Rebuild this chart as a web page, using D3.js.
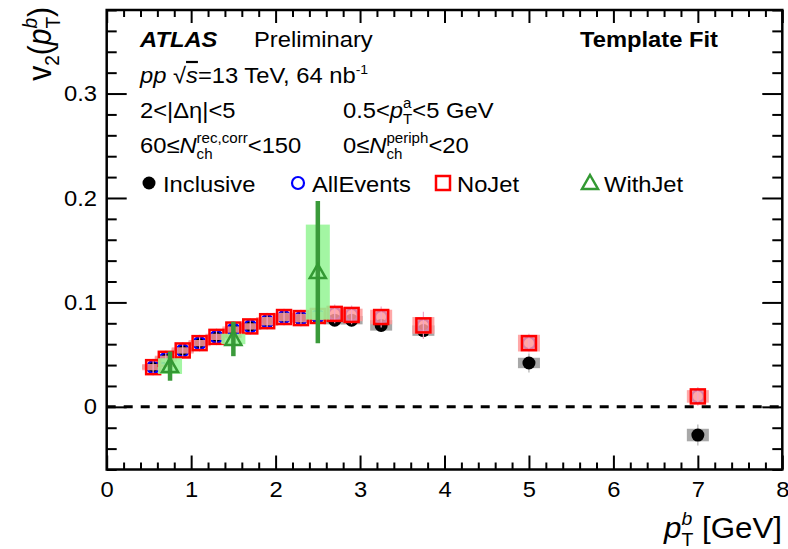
<!DOCTYPE html>
<html>
<head>
<meta charset="utf-8">
<script src="https://cdn.jsdelivr.net/npm/d3@7"></script>
<style>
  body { margin: 0; background: #fff; }
  text { font-family: "Liberation Sans", Arial, sans-serif; fill: #000; }
</style>
</head>
<body>
<svg id="chart"></svg>
<script>
// bin centres in pT^b (GeV)
const ptBins = [0.55, 0.7, 0.9, 1.1, 1.3, 1.5, 1.7, 1.9, 2.1, 2.3, 2.5, 2.7, 2.9, 3.25, 3.75, 5, 7];

const inclusiveV2   = [0.038, 0.046, 0.054, 0.061, 0.067, 0.073, 0.077, 0.081, 0.086, 0.084, 0.086, 0.083, 0.083, 0.078, 0.073, 0.042, -0.027];
const inclusiveStat = [0.003, 0.003, 0.003, 0.003, 0.003, 0.003, 0.004, 0.004, 0.004, 0.004, 0.005, 0.005, 0.006, 0.006, 0.007, 0.009, 0.010];
const inclusiveSyst = [0.002, 0.002, 0.002, 0.002, 0.002, 0.002, 0.003, 0.003, 0.003, 0.003, 0.003, 0.004, 0.004, 0.005, 0.005, 0.005, 0.006];

const allEventsV2   = [0.038, 0.046, 0.054, 0.061, 0.067, 0.074, 0.077, 0.082, 0.086, 0.085, 0.087, 0.089, 0.088, 0.086, 0.078, 0.061, 0.010];

const noJetV2   = [0.038, 0.046, 0.054, 0.061, 0.067, 0.074, 0.077, 0.082, 0.086, 0.085, 0.087, 0.089, 0.088, 0.086, 0.078, 0.061, 0.010];
const noJetStat = [0.008, 0.008, 0.008, 0.008, 0.008, 0.008, 0.008, 0.008, 0.008, 0.008, 0.009, 0.009, 0.009, 0.010, 0.013, 0.009, 0.009];
const noJetSyst = [0.003, 0.003, 0.003, 0.003, 0.003, 0.003, 0.003, 0.004, 0.004, 0.004, 0.004, 0.006, 0.006, 0.007, 0.008, 0.008, 0.006];

const withJetBins = [0.75, 1.5, 2.5];
const withJetV2   = [0.039, 0.065, 0.129];
const withJetStat = [0.014, 0.0165, 0.068];
const withJetSyst = [0.0075, 0.005, 0.0455];

const xTicks = [0, 1, 2, 3, 4, 5, 6, 7, 8];
const yTicks = [0, 0.1, 0.2, 0.3];

const W = 788, H = 549;
const frame = { left: 106.7, right: 782.3, top: 10, bottom: 469.5 };
const SX = 1.08; // picture is a little wider than tall

const svg = d3.select('#chart').attr('width', W).attr('height', H);

const xScale = d3.scaleLinear().domain([0, 8]).range([frame.left, frame.right]);
const yScale = d3.scaleLinear().domain([-0.06, 0.38]).range([frame.bottom, frame.top]);

const xMinor = d3.range(0, 8.001, 0.2).filter(v => Math.abs(v - Math.round(v)) > 1e-6);
const yMinor = d3.range(-0.06, 0.3801, 0.02).filter(v => Math.abs(v * 10 - Math.round(v * 10)) > 1e-6);

// ---- axes (ticks pointing inwards on all four sides)
const fmt = d => d === 0 ? '0' : d3.format('.1f')(d);

const addAxis = (axis, transform) => {
    const g = svg.append('g').attr('transform', transform).call(axis);
    g.select('.domain').remove();
    g.selectAll('.tick line').attr('stroke', '#000').attr('stroke-width', 2);
    return g;
};

const yLeft = addAxis(d3.axisLeft(yScale).tickValues(yTicks).tickSize(-20).tickPadding(9).tickFormat(fmt),
    `translate(${frame.left},0)`);
yLeft.selectAll('.tick text').attr('font-size', 22).attr('fill', '#000')
    .attr('transform', `scale(${SX},1)`);
addAxis(d3.axisLeft(yScale).tickValues(yMinor).tickSize(-10).tickFormat(''), `translate(${frame.left},0)`);
addAxis(d3.axisRight(yScale).tickValues(yTicks).tickSize(-20).tickFormat(''), `translate(${frame.right},0)`);
addAxis(d3.axisRight(yScale).tickValues(yMinor).tickSize(-10).tickFormat(''), `translate(${frame.right},0)`);

const xBottom = addAxis(d3.axisBottom(xScale).tickValues(xTicks).tickSize(-14).tickPadding(12).tickFormat(d3.format('d')),
    `translate(0,${frame.bottom})`);
xBottom.selectAll('.tick text').attr('font-size', 22).attr('fill', '#000')
    .attr('transform', `scale(${SX},1)`);
addAxis(d3.axisBottom(xScale).tickValues(xMinor).tickSize(-7).tickFormat(''), `translate(0,${frame.bottom})`);
addAxis(d3.axisTop(xScale).tickValues(xTicks).tickSize(-13).tickFormat(''), `translate(0,${frame.top})`);
addAxis(d3.axisTop(xScale).tickValues(xMinor).tickSize(-7).tickFormat(''), `translate(0,${frame.top})`);

svg.append('rect')
    .attr('x', frame.left).attr('y', frame.top)
    .attr('width', frame.right - frame.left).attr('height', frame.bottom - frame.top)
    .attr('fill', 'none').attr('stroke', '#000').attr('stroke-width', 2.5);

// zero line
svg.append('line')
    .attr('x1', xScale(0)).attr('x2', xScale(8))
    .attr('y1', yScale(0)).attr('y2', yScale(0))
    .attr('stroke', '#000').attr('stroke-width', 3).attr('stroke-dasharray', '9,8');

// ---- data
const plot = svg.append('g');

const drawSeries = (xs, vals, stat, syst, opt) => {
    const pts = xs.map((x, i) => ({ x: x, v: vals[i], st: stat ? stat[i] : 0, sy: syst ? syst[i] : 0 }));
    const g = plot.append('g');
    if (syst) {
        g.selectAll('rect.sys').data(pts).join('rect')
            .attr('x', d => xScale(d.x) - opt.boxHalf)
            .attr('width', opt.boxHalf * 2)
            .attr('y', d => yScale(d.v + d.sy))
            .attr('height', d => yScale(d.v - d.sy) - yScale(d.v + d.sy))
            .attr('fill', opt.boxFill).attr('opacity', opt.boxOpacity || 1);
    }
    if (stat) {
        g.selectAll('line.stat').data(pts).join('line')
            .attr('x1', d => xScale(d.x)).attr('x2', d => xScale(d.x))
            .attr('y1', d => yScale(d.v + d.st)).attr('y2', d => yScale(d.v - d.st))
            .attr('stroke', opt.barColor).attr('stroke-width', opt.barWidth);
    }
    const m = g.selectAll('g.m').data(pts).join('g')
        .attr('transform', d => `translate(${xScale(d.x)},${yScale(d.v)})`);
    opt.marker(m);
};

const dot = sel => sel.append('circle').attr('r', 6.5).attr('fill', '#000');
const ring = sel => sel.append('circle').attr('r', 6).attr('fill', 'none').attr('stroke', '#0000ff').attr('stroke-width', 2.2);
const square = sel => sel.append('rect').attr('x', -7).attr('y', -7).attr('width', 14).attr('height', 14)
    .attr('fill', 'none').attr('stroke', '#ff0000').attr('stroke-width', 2.5);
const triangle = sel => sel.append('path').attr('d', 'M0,-8L8,6L-8,6Z')
    .attr('fill', 'none').attr('stroke', '#339933').attr('stroke-width', 2.5).attr('stroke-linejoin', 'miter');

drawSeries(ptBins, inclusiveV2, inclusiveStat, inclusiveSyst,
    { boxHalf: 11, boxFill: '#a8a8a8', barColor: '#b0b0b0', barWidth: 1.2, marker: dot });
drawSeries(ptBins, allEventsV2, null, null, { marker: ring });
drawSeries(ptBins, noJetV2, noJetStat, noJetSyst,
    { boxHalf: 11, boxFill: '#ff9999', boxOpacity: 0.85, barColor: '#f2a6c8', barWidth: 1.2, marker: square });
drawSeries(withJetBins, withJetV2, withJetStat, withJetSyst,
    { boxHalf: 12, boxFill: '#99f599', boxOpacity: 0.9, barColor: '#3a9a3a', barWidth: 4.5, marker: triangle });

// ---- text helpers
const label = (x, y, size, anchor) => svg.append('g')
    .attr('transform', `translate(${x},${y}) scale(${SX},1)`)
    .append('text').attr('font-size', size).attr('text-anchor', anchor || 'start');

// base text with stacked sub/sup after it
const stacked = (t, sub, sup, size, rest) => {
    const small = Math.round(size * 0.62);
    const s1 = t.append('tspan').attr('font-size', small).attr('dy', size * 0.28).text(sub);
    const subLen = s1.node().getComputedTextLength();
    const s2 = t.append('tspan').attr('font-size', small).attr('dx', -subLen).attr('dy', -size * 0.72).text(sup);
    const supLen = s2.node().getComputedTextLength();
    t.append('tspan').attr('dy', size * 0.44).attr('dx', Math.max(0, subLen - supLen)).text(rest);
};

let t = label(140, 47, 22);
t.append('tspan').attr('font-weight', 'bold').attr('font-style', 'italic').text('ATLAS');
label(254, 47, 22).text('Preliminary');
label(718, 47, 22, 'end').attr('font-weight', 'bold').text('Template Fit');

t = label(140, 83, 22);
t.append('tspan').attr('font-style', 'italic').text('pp');
t.append('tspan').text(' \u221A');
t.append('tspan').attr('font-style', 'italic').attr('text-decoration', 'overline').text('s');
t.append('tspan').text('=13 TeV, 64 nb');
t.append('tspan').attr('font-size', 13).attr('dy', -9).text('-1');

label(140, 118, 22).text('2<|\u0394\u03B7|<5');

t = label(343, 118, 22);
t.append('tspan').text('0.5<');
t.append('tspan').attr('font-style', 'italic').text('p');
stacked(t, 'T', 'a', 22, '<5 GeV');

t = label(140, 153, 22);
t.append('tspan').text('60\u2264');
t.append('tspan').attr('font-style', 'italic').text('N');
stacked(t, 'ch', 'rec,corr', 22, '<150');

t = label(343, 153, 22);
t.append('tspan').text('0\u2264');
t.append('tspan').attr('font-style', 'italic').text('N');
stacked(t, 'ch', 'periph', 22, '<20');

// legend
const legendNames = ['Inclusive', 'AllEvents', 'NoJet', 'WithJet'];
const legendMarkers = [dot, ring, square, triangle];
const legendX = [149, 298, 443, 590];
legendNames.forEach((name, i) => {
    const m = svg.append('g').attr('transform', `translate(${legendX[i]},183)`);
    legendMarkers[i](m);
    label(legendX[i] + 14, 191.5, 22).text(name);
});

// axis titles
t = label(782, 538, 29, 'end');
t.append('tspan').attr('font-style', 'italic').text('p');
stacked(t, 'T', 'b', 29, ' [GeV]');
t.selectAll('tspan').filter((d, i) => i === 2).attr('font-style', 'italic');

const yt = svg.append('g').attr('transform', `translate(51,7) rotate(-90) scale(1,${SX})`)
    .append('text').attr('font-size', 30).attr('text-anchor', 'end');
yt.append('tspan').text('v');
yt.append('tspan').attr('font-size', 19).attr('dy', 7).text('2');
yt.append('tspan').attr('dy', -7).text('(');
yt.append('tspan').attr('font-style', 'italic').text('p');
stacked(yt, 'T', 'b', 30, ')');
yt.selectAll('tspan').filter((d, i) => i === 5).attr('font-style', 'italic');
</script>
</body>
</html>
